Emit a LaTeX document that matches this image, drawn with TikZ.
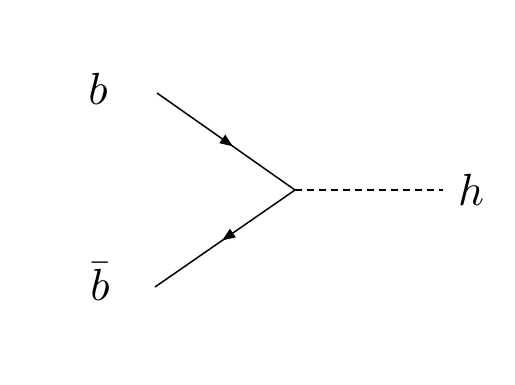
\documentclass[tikz,border=0pt]{standalone}
\usepackage{graphicx}
\usetikzlibrary{decorations.markings,arrows.meta}
\newcommand{\biglbl}[1]{\scalebox{4.5}{$#1$}}
\begin{document}
\begin{tikzpicture}[x=1pt,y=-1pt,
  fermion/.style={line width=1.5pt,postaction={decorate},
    decoration={markings,mark=at position #1 with {\arrow{Triangle[length=13pt,width=10pt]}}}},
  scalar/.style={line width=1.3pt,dash pattern=on 7pt off 5pt},
  lbl/.style={inner sep=0pt}]
\useasboundingbox (0,0) rectangle (515,384);
\coordinate (q) at (157,93);
\coordinate (qb) at (155,287);
\coordinate (v) at (295,190);
\coordinate (hend) at (443,190);
\draw[fermion=0.55] (q) -- (v);
\draw[fermion=0.52] (v) -- (qb);
\draw[scalar] (v) -- (hend);
\node[lbl] (lb) at (98,89) {\biglbl{b}};
\node[lbl] (lbb) at (100,282) {\biglbl{\bar b}};
\node[lbl] (lh) at (471,190) {\biglbl{h}};
\end{tikzpicture}
\end{document}
